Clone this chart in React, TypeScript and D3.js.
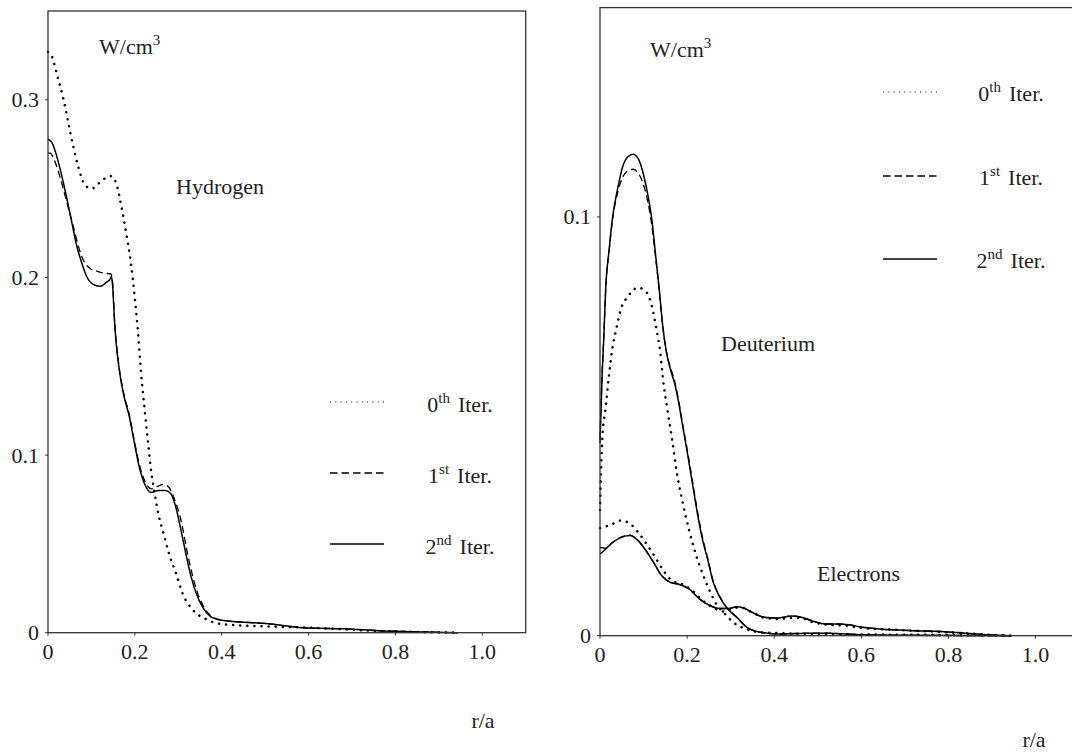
import React from "react";
import * as d3 from "d3";

type Pt = [number, number];

// ---------- Left panel: Hydrogen ----------
const hydrogenIter0: Pt[] = [
  [0, 0.327], [0.006, 0.326], [0.022, 0.313], [0.034, 0.302], [0.046, 0.288], [0.058, 0.274],
  [0.07, 0.262], [0.085, 0.252], [0.101, 0.25], [0.117, 0.253], [0.133, 0.256], [0.146, 0.257],
  [0.157, 0.253], [0.169, 0.24], [0.18, 0.225], [0.191, 0.208], [0.2, 0.188], [0.208, 0.167],
  [0.214, 0.147], [0.222, 0.127], [0.23, 0.108], [0.238, 0.09], [0.246, 0.078], [0.254, 0.067],
  [0.266, 0.056], [0.278, 0.045], [0.294, 0.034], [0.31, 0.022], [0.333, 0.013], [0.365, 0.0075],
  [0.405, 0.0047], [0.484, 0.0037], [0.603, 0.0028], [0.762, 0.001], [0.944, 0],
];
const hydrogenIter1: Pt[] = [
  [0, 0.27], [0.005, 0.27], [0.01, 0.2685], [0.022, 0.261], [0.034, 0.251], [0.046, 0.24],
  [0.058, 0.229], [0.07, 0.2175], [0.081, 0.21], [0.097, 0.205], [0.114, 0.2034], [0.129, 0.2024],
  [0.145, 0.202], [0.149, 0.196], [0.153, 0.177], [0.157, 0.164], [0.163, 0.151], [0.175, 0.134],
  [0.187, 0.123], [0.198, 0.109], [0.21, 0.095], [0.222, 0.086], [0.238, 0.081], [0.254, 0.0825],
  [0.266, 0.0835], [0.278, 0.082], [0.29, 0.076], [0.306, 0.0636], [0.321, 0.045], [0.333, 0.032],
  [0.345, 0.022], [0.36, 0.014], [0.375, 0.0095], [0.397, 0.0072], [0.444, 0.006], [0.508, 0.005],
  [0.563, 0.0034], [0.603, 0.0026], [0.683, 0.0022], [0.762, 0.0011], [0.841, 0.0006], [0.944, 0],
];
const hydrogenIter2: Pt[] = [
  [0, 0.278], [0.005, 0.277], [0.01, 0.2755], [0.018, 0.27], [0.03, 0.259], [0.042, 0.246],
  [0.054, 0.232], [0.066, 0.218], [0.078, 0.208], [0.089, 0.2005], [0.105, 0.196], [0.121, 0.195],
  [0.133, 0.197], [0.143, 0.199], [0.146, 0.2005], [0.149, 0.195], [0.153, 0.176], [0.157, 0.163],
  [0.163, 0.15], [0.175, 0.133], [0.187, 0.122], [0.198, 0.108], [0.21, 0.0935], [0.222, 0.084],
  [0.238, 0.079], [0.254, 0.08], [0.27, 0.08], [0.282, 0.0785], [0.294, 0.071], [0.306, 0.058],
  [0.317, 0.045], [0.329, 0.032], [0.341, 0.0224], [0.357, 0.014], [0.373, 0.0093], [0.397, 0.0071],
  [0.444, 0.006], [0.508, 0.005], [0.563, 0.0034], [0.603, 0.0026], [0.683, 0.0022], [0.762, 0.0011],
  [0.841, 0.0006], [0.944, 0],
];

// ---------- Right panel: Deuterium ----------
const deuteriumIter0: Pt[] = [
  [0, 0.03], [0.0015, 0.036], [0.005, 0.0466], [0.013, 0.0545], [0.021, 0.0625], [0.029, 0.069],
  [0.037, 0.073], [0.048, 0.078], [0.064, 0.081], [0.0875, 0.0831], [0.107, 0.082], [0.119, 0.0787],
  [0.13, 0.073], [0.138, 0.068], [0.145, 0.061], [0.154, 0.0545], [0.166, 0.0466], [0.177, 0.0386],
  [0.189, 0.0322], [0.205, 0.025], [0.22, 0.0195], [0.236, 0.0147], [0.252, 0.0107], [0.267, 0.0076],
  [0.287, 0.0052], [0.306, 0.0032], [0.33, 0.0018], [0.37, 0.0008], [0.45, 0.0005], [0.6, 0.0003],
  [0.75, 0.0002], [0.943, 0],
];
const deuteriumIter1: Pt[] = [
  [0, 0.047], [0.005, 0.063], [0.009, 0.072], [0.013, 0.0825], [0.021, 0.092], [0.029, 0.0995],
  [0.041, 0.106], [0.052, 0.1095], [0.064, 0.111], [0.076, 0.1114], [0.0875, 0.1105], [0.099, 0.108],
  [0.109, 0.104], [0.119, 0.098], [0.128, 0.09], [0.136, 0.0825], [0.144, 0.074], [0.152, 0.068],
  [0.162, 0.064], [0.172, 0.0605], [0.18, 0.0565], [0.189, 0.051], [0.201, 0.044], [0.2125, 0.0368],
  [0.224, 0.0296], [0.236, 0.0232], [0.248, 0.0182], [0.259, 0.0134], [0.275, 0.0094], [0.29, 0.0069],
  [0.314, 0.0044], [0.3375, 0.002], [0.369, 0.0008], [0.408, 0.0004], [0.486, 0.0006], [0.525, 0.0006],
  [0.603, 0.0002], [0.72, 0.0001], [0.943, 0],
];
const deuteriumIter2: Pt[] = [
  [0, 0.046], [0.005, 0.0625], [0.009, 0.072], [0.013, 0.0827], [0.021, 0.0922], [0.029, 0.1],
  [0.041, 0.107], [0.052, 0.112], [0.064, 0.1144], [0.076, 0.115], [0.0875, 0.114], [0.099, 0.1105],
  [0.109, 0.1057], [0.119, 0.0994], [0.128, 0.0906], [0.136, 0.0827], [0.144, 0.074], [0.152, 0.068],
  [0.162, 0.0635], [0.172, 0.06], [0.18, 0.056], [0.189, 0.0506], [0.201, 0.0434], [0.2125, 0.0362],
  [0.224, 0.029], [0.236, 0.0227], [0.248, 0.0179], [0.259, 0.0131], [0.275, 0.0092], [0.29, 0.0068],
  [0.314, 0.0044], [0.3375, 0.002], [0.369, 0.0008], [0.408, 0.0004], [0.486, 0.0006], [0.525, 0.0006],
  [0.603, 0.0002], [0.72, 0.0001], [0.943, 0],
];

// ---------- Right panel: Electrons ----------
const electronsIter0: Pt[] = [
  [0, 0.0257], [0.025, 0.0265], [0.048, 0.0275], [0.068, 0.0268], [0.0875, 0.0247], [0.107, 0.0219],
  [0.127, 0.0187], [0.146, 0.0155], [0.166, 0.0131], [0.189, 0.0123], [0.2125, 0.0107], [0.236, 0.0084],
  [0.259, 0.0068], [0.283, 0.0058], [0.302, 0.0064], [0.322, 0.0068], [0.345, 0.0058], [0.377, 0.0043],
  [0.408, 0.004], [0.439, 0.0043], [0.4625, 0.0042], [0.486, 0.0033], [0.525, 0.0026], [0.564, 0.0024],
  [0.603, 0.0018], [0.681, 0.0014], [0.759, 0.001], [0.8375, 0.0006], [0.9, 0.0002], [0.943, 0],
];
const electronsIter1: Pt[] = [
  [0, 0.0211], [0.013, 0.0209], [0.029, 0.0223], [0.045, 0.0234], [0.068, 0.024], [0.0875, 0.0228],
  [0.103, 0.0207], [0.123, 0.0175], [0.142, 0.0143], [0.162, 0.0127], [0.181, 0.0123], [0.205, 0.0111],
  [0.228, 0.0088], [0.252, 0.0072], [0.275, 0.0065], [0.295, 0.0065], [0.314, 0.0069], [0.33, 0.0066],
  [0.349, 0.0056], [0.377, 0.0044], [0.408, 0.0042], [0.439, 0.0047], [0.4625, 0.0044], [0.486, 0.0036],
  [0.517, 0.0028], [0.548, 0.0028], [0.572, 0.0026], [0.603, 0.002], [0.642, 0.0016], [0.72, 0.0012],
  [0.783, 0.001], [0.8375, 0.0006], [0.892, 0.0002], [0.943, 0],
];
const electronsIter2: Pt[] = [
  [0, 0.0195], [0.009, 0.0203], [0.025, 0.0219], [0.045, 0.0233], [0.068, 0.0239], [0.0875, 0.0227],
  [0.103, 0.0207], [0.123, 0.0175], [0.142, 0.0143], [0.162, 0.0127], [0.181, 0.0123], [0.205, 0.0111],
  [0.228, 0.0088], [0.252, 0.0072], [0.275, 0.0065], [0.295, 0.0065], [0.314, 0.0069], [0.33, 0.0066],
  [0.349, 0.0056], [0.377, 0.0044], [0.408, 0.0042], [0.439, 0.0047], [0.4625, 0.0044], [0.486, 0.0036],
  [0.517, 0.0028], [0.548, 0.0028], [0.572, 0.0026], [0.603, 0.002], [0.642, 0.0016], [0.72, 0.0012],
  [0.783, 0.001], [0.8375, 0.0006], [0.892, 0.0002], [0.943, 0],
];

// ---------- Ticks & labels ----------
const xTicks = [0, 0.2, 0.4, 0.6, 0.8, 1.0];
const xTickLabels = ["0", "0.2", "0.4", "0.6", "0.8", "1.0"];
const yTicksLeft = [0, 0.1, 0.2, 0.3];
const yTickLabelsLeft = ["0", "0.1", "0.2", "0.3"];
const yTicksRight = [0, 0.1];
const yTickLabelsRight = ["0", "0.1"];
const legendOrdinals = ["0", "1", "2"];
const legendSuffixes = ["th", "st", "nd"];

const FONT = "'Liberation Serif', 'Times New Roman', serif";
const FS = 22;
const STYLES = [
  { dash: "0.1 7", width: 2.5, cap: "round" as const },
  { dash: "7 4", width: 1.3, cap: "butt" as const },
  { dash: undefined, width: 1.5, cap: "butt" as const },
];
const LEGEND_STYLES = [
  { dash: "1 4.3", width: 1 },
  { dash: "7.5 4", width: 1.4 },
  { dash: undefined, width: 1.6 },
];

function Panel(props: {
  x: d3.ScaleLinear<number, number>;
  y: d3.ScaleLinear<number, number>;
  yTicks: number[];
  yLabels: string[];
  series: Pt[][];
}) {
  const { x, y, yTicks, yLabels, series } = props;
  const [x0, x1] = x.range();
  const [y0, y1] = y.range();
  const line = d3
    .line<Pt>()
    .x((d) => x(d[0]))
    .y((d) => y(d[1]))
    .curve(d3.curveMonotoneX);
  return (
    <g>
      {series.map((s, i) => (
        <path
          key={i}
          d={line(s) || ""}
          fill="none"
          stroke="#000"
          strokeWidth={STYLES[i % 3].width}
          strokeDasharray={STYLES[i % 3].dash}
          strokeLinecap={STYLES[i % 3].cap}
        />
      ))}
      <rect x={x0} y={y1} width={x1 - x0} height={y0 - y1} fill="none" stroke="#333" strokeWidth={1.3} />
      {xTicks.map((t, i) => (
        <g key={"x" + i}>
          <line x1={x(t)} x2={x(t)} y1={y0} y2={y0 + 3} stroke="#333" strokeWidth={1} />
          <text x={x(t)} y={y0 + 26} textAnchor="middle" fontSize={FS} fill="#222">
            {xTickLabels[i]}
          </text>
        </g>
      ))}
      {yTicks.map((t, i) => (
        <g key={"y" + i}>
          <line x1={x0 - 3} x2={x0} y1={y(t)} y2={y(t)} stroke="#333" strokeWidth={1} />
          <text x={x0 - 9} y={y(t) + 7.5} textAnchor="end" fontSize={FS} fill="#222">
            {yLabels[i]}
          </text>
        </g>
      ))}
    </g>
  );
}

function Legend(props: { lx1: number; lx2: number; tx: number; ys: number[]; dy: number }) {
  const { lx1, lx2, tx, ys, dy } = props;
  return (
    <g>
      {ys.map((yy, i) => (
        <g key={i}>
          <line
            x1={lx1}
            x2={lx2}
            y1={yy}
            y2={yy}
            stroke="#000"
            strokeWidth={LEGEND_STYLES[i].width}
            strokeDasharray={LEGEND_STYLES[i].dash}
          />
          <text x={tx} y={yy + dy} textAnchor="middle" fontSize={FS} fill="#222">
            <tspan>{legendOrdinals[i]}</tspan>
            <tspan dy={-9} fontSize={15}>
              {legendSuffixes[i]}
            </tspan>
            <tspan dy={9} dx={8}>
              Iter.
            </tspan>
          </text>
        </g>
      ))}
    </g>
  );
}

function Unit(props: { x: number; y: number }) {
  return (
    <text x={props.x} y={props.y} fontSize={FS} fill="#222">
      <tspan>W/cm</tspan>
      <tspan dy={-9} fontSize={15}>
        3
      </tspan>
    </text>
  );
}

export default function App() {
  const xL = d3.scaleLinear().domain([0, 1.1]).range([48, 525.7]);
  const yL = d3.scaleLinear().domain([0, 0.35]).range([632.7, 11]);
  const xR = d3.scaleLinear().domain([0, 1.1]).range([600, 600 + 1.1 * 435.5]);
  const yR = d3.scaleLinear().domain([0, 0.15]).range([635.7, 7.6]);

  return (
    <svg
      width={1072}
      height={753}
      style={{ position: "absolute", left: 0, top: 0, background: "#fff" }}
      fontFamily={FONT}
    >
      <rect x={0} y={0} width={1072} height={753} fill="#fff" />
      <Panel x={xL} y={yL} yTicks={yTicksLeft} yLabels={yTickLabelsLeft} series={[hydrogenIter0, hydrogenIter1, hydrogenIter2]} />
      <Panel
        x={xR}
        y={yR}
        yTicks={yTicksRight}
        yLabels={yTickLabelsRight}
        series={[deuteriumIter0, deuteriumIter1, deuteriumIter2, electronsIter0, electronsIter1, electronsIter2]}
      />
      <Unit x={99} y={54} />
      <Unit x={650} y={57} />
      <text x={176} y={194} fontSize={FS} fill="#222">Hydrogen</text>
      <text x={721} y={351} fontSize={FS} fill="#222">Deuterium</text>
      <text x={817} y={581} fontSize={FS} fill="#222">Electrons</text>
      <Legend lx1={330} lx2={384} tx={460} ys={[402, 473, 544]} dy={9.5} />
      <Legend lx1={883} lx2={937} tx={1011} ys={[92, 176, 259]} dy={8.5} />
      <text x={483} y={728} textAnchor="middle" fontSize={FS} fill="#222">r/a</text>
      <text x={1034} y={747} textAnchor="middle" fontSize={FS} fill="#222">r/a</text>
    </svg>
  );
}
